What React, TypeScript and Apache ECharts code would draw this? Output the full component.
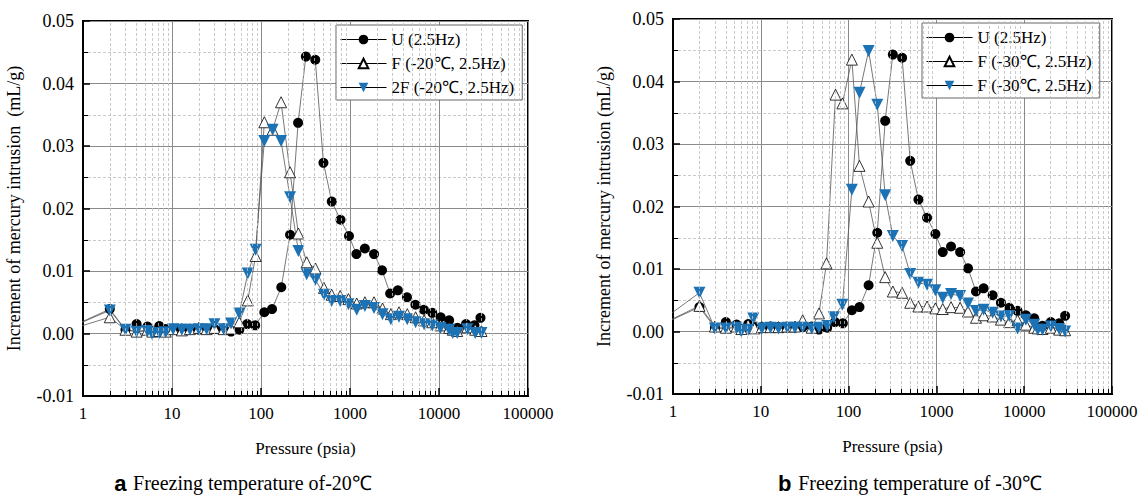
import React, { useEffect, useRef } from "react";
import * as echarts from "echarts";

// ---- data (pressure in psia, increment in mL/g) ----
const pressureU = [0.5, 2, 3, 4, 5.3, 7.2, 8.5, 10.3, 12.9, 15.9, 20, 24.5, 30, 38, 46, 57, 70, 86, 109, 133, 169, 212, 261, 319, 407, 503, 624, 783, 974, 1181, 1468, 1862, 2290, 2825, 3450, 4370, 5430, 6760, 8400, 10450, 13000, 16150, 20100, 25000, 29250];
const incrementU = [0, 0.0039, 0.0006, 0.0015, 0.0011, 0.0012, 0.0007, 0.0007, 0.0008, 0.0007, 0.0006, 0.0006, 0.0007, 0.0008, 0.0003, 0.0006, 0.0015, 0.0013, 0.0034, 0.0039, 0.0074, 0.0158, 0.0337, 0.0443, 0.0438, 0.0273, 0.0211, 0.0182, 0.0156, 0.0127, 0.0136, 0.0127, 0.0101, 0.0064, 0.0069, 0.0058, 0.0046, 0.0038, 0.0033, 0.0026, 0.0021, 0.0009, 0.0015, 0.0013, 0.0025];

const pressureF20 = [0.5, 2, 3, 4, 5.3, 6, 7.2, 8.5, 10.3, 12.9, 15.9, 20, 24.5, 30, 38, 46, 57, 71, 87, 109, 135, 168, 212, 263, 326, 409, 510, 622, 776, 960, 1190, 1470, 1860, 2320, 2880, 3550, 4400, 5460, 6800, 8400, 10400, 13000, 14300, 16000, 20800, 25500, 30000];
const incrementF20 = [0, 0.0026, 0.0006, 0.0003, 0.0006, 0.0003, 0.0004, 0.0003, 0.0007, 0.0005, 0.0007, 0.0009, 0.0007, 0.0009, 0.0007, 0.0008, 0.0018, 0.0053, 0.0124, 0.0338, 0.0326, 0.037, 0.0258, 0.016, 0.0114, 0.0104, 0.0073, 0.0062, 0.006, 0.0055, 0.0048, 0.005, 0.005, 0.004, 0.0031, 0.0034, 0.0031, 0.0026, 0.0021, 0.0018, 0.0013, 0.0009, 0.0006, 0.0004, 0.001, 0.0006, 0.0004];
const increment2F20 = [0, 0.0037, 0.0006, 0.0003, 0.0004, -0.0001, 0.0001, 0.0002, 0.0007, 0.0006, 0.0006, 0.0007, 0.0007, 0.0015, 0.0007, 0.0016, 0.0032, 0.0096, 0.0134, 0.0308, 0.0326, 0.0308, 0.0218, 0.0132, 0.0095, 0.0086, 0.0062, 0.0052, 0.0052, 0.0047, 0.0038, 0.0044, 0.0041, 0.0031, 0.0023, 0.0027, 0.0023, 0.0018, 0.0015, 0.0013, 0.0009, 0.0006, 0.0001, 0.0001, 0.0007, 0.0001, 0.0001];

const pressureF30a = [0.5, 2, 3, 4, 5.3, 6, 7.2, 8.5, 10.3, 12.9, 15.9, 20, 24.5, 30, 38, 46, 56, 71, 85, 109, 133, 169, 212, 261, 319, 407, 503, 624, 783, 974, 1181, 1468, 1862, 2290, 2825, 3450, 4370, 5430, 6760, 8400, 10450, 13000, 14300, 16150, 20100, 25000, 29250];
const incrementF30a = [0, 0.0041, 0.0008, 0.0006, 0.0008, 0.0004, 0.001, 0.0005, 0.0007, 0.0007, 0.0007, 0.0008, 0.0008, 0.0018, 0.0006, 0.0029, 0.0109, 0.0379, 0.0365, 0.0435, 0.0265, 0.0208, 0.0142, 0.0087, 0.0064, 0.0062, 0.0046, 0.004, 0.004, 0.0037, 0.0036, 0.0039, 0.0038, 0.0032, 0.0022, 0.0026, 0.0024, 0.0019, 0.0015, 0.0018, 0.0011, 0.0006, 0.0005, 0.0004, 0.0006, 0.0003, 0.0002];

const pressureF30b = [0.5, 2, 3, 4, 5.3, 6, 7.2, 8.2, 10.3, 12.9, 15.9, 20, 24.5, 30, 38, 46, 57, 68, 85, 109, 133, 169, 212, 261, 319, 407, 503, 624, 783, 974, 1181, 1468, 1862, 2290, 2825, 3450, 4370, 5430, 6760, 8400, 10450, 13000, 14300, 16150, 20100, 25000, 29250];
const incrementF30b = [0, 0.0062, 0.0005, 0.0005, 0.0006, 0, 0.0003, 0.0021, 0.0005, 0.0006, 0.0005, 0.0006, 0.0006, 0.0006, 0.0005, 0.0006, 0.0009, 0.0023, 0.0043, 0.0227, 0.0382, 0.0449, 0.0363, 0.0218, 0.0153, 0.0137, 0.0092, 0.0078, 0.0075, 0.0066, 0.0054, 0.006, 0.0057, 0.0045, 0.0033, 0.0035, 0.003, 0.0024, 0.0025, 0.0005, 0.0019, 0.0011, 0.0003, 0.0003, 0.0008, 0.0004, 0];

const decades = [1, 10, 100, 1000, 10000];
const minorMultipliers = [2, 3, 4, 5, 6, 7, 8, 9];

const nameU = "U (2.5Hz)";
const nameF20 = "F (-20℃, 2.5Hz)";
const name2F20 = "2F (-20℃, 2.5Hz)";
const nameF30a = "F (-30℃, 2.5Hz)";
const nameF30b = "F (-30℃, 2.5Hz)\u200B";

const captionA = "Freezing temperature of-20℃";
const captionB = "Freezing temperature of -30℃";

const SERIF = "Liberation Serif";
const SANS = "Liberation Sans";
const BLUE = "#1b72b4";
const LINE = "#555";

const zip = (xs: number[], ys: number[]) => xs.map((x, i) => [x, ys[i]]);

function App() {
  const ref = useRef<HTMLDivElement>(null);
  useEffect(() => {
    if (!ref.current) return;
    const chart = echarts.init(ref.current, undefined, { renderer: "svg" });

    const minorVals: number[] = [];
    decades.forEach((d) => minorMultipliers.forEach((m) => minorVals.push(d * m)));

    const makeX = (i: number) => ({
      type: "log",
      logBase: 10,
      min: 1,
      max: 100000,
      gridIndex: i,
      name: "Pressure (psia)",
      nameLocation: "middle",
      nameGap: 44,
      nameTextStyle: { fontSize: 17, color: "#000", fontFamily: SERIF },
      axisLine: { onZero: false, lineStyle: { color: "#000", width: 2 } },
      axisTick: { inside: true, length: 8, lineStyle: { color: "#000", width: 1.5 } },
      axisLabel: {
        fontSize: 17,
        color: "#000",
        fontFamily: SERIF,
        margin: 9,
        formatter: (v: number) => String(Math.round(v)),
      },
      splitLine: { show: true, lineStyle: { color: "#8a8a8a", width: 1 } },
    });
    const makeY = (i: number, name: string) => ({
      type: "value",
      min: -0.01,
      max: 0.05,
      interval: 0.01,
      gridIndex: i,
      name,
      nameLocation: "middle",
      nameGap: 60,
      nameTextStyle: { fontSize: 18, color: "#000", fontFamily: SERIF },
      axisLine: { show: true, onZero: false, lineStyle: { color: "#000", width: 2 } },
      axisTick: { show: true, inside: true, length: 7, lineStyle: { color: "#000", width: 1.5 } },
      minorTick: { show: true, splitNumber: 2, length: 5, lineStyle: { color: "#000", width: 1 } },
      minorSplitLine: { show: true, lineStyle: { color: "#bdbdbd", type: [3, 2], width: 0.8 } },
      axisLabel: {
        fontSize: 18,
        color: "#000",
        fontFamily: SERIF,
        margin: 9,
        formatter: (v: number) => (Math.abs(v) < 1e-9 ? "0.00" : v.toFixed(2)),
      },
      splitLine: { show: true, lineStyle: { color: "#8a8a8a", width: 1 } },
    });

    const gridHelper = (i: number) => [
      {
        type: "line",
        name: "__grid" + i,
        xAxisIndex: i,
        yAxisIndex: i,
        data: [],
        z: 1,
        silent: true,
        markLine: {
          silent: true,
          symbol: ["none", "none"],
          label: { show: false },
          emphasis: { disabled: true },
          animation: false,
          lineStyle: { color: "#bdbdbd", type: [3, 2], width: 0.8 },
          data: minorVals.map((v) => [{ coord: [v, -0.01] }, { coord: [v, 0.05] }]),
        },
      },
      {
        type: "line",
        name: "__tick" + i,
        xAxisIndex: i,
        yAxisIndex: i,
        data: [],
        z: 4,
        silent: true,
        markLine: {
          silent: true,
          symbol: ["none", "none"],
          label: { show: false },
          emphasis: { disabled: true },
          animation: false,
          lineStyle: { color: "#000", type: "solid", width: 1 },
          data: minorVals.map((v) => [{ coord: [v, -0.01] }, { coord: [v, -0.0092] }]),
        },
      },
    ];

    const circleSeries = (i: number) => ({
      type: "line",
      name: nameU,
      xAxisIndex: i,
      yAxisIndex: i,
      data: zip(pressureU, incrementU),
      symbol: "circle",
      symbolSize: 10,
      clip: true,
      z: 3,
      lineStyle: { color: LINE, width: 0.8 },
      itemStyle: { color: "#000", borderWidth: 0 },
    });
    const triSeries = (i: number, name: string, px: number[], py: number[]) => ({
      type: "line",
      name,
      xAxisIndex: i,
      yAxisIndex: i,
      data: zip(px, py),
      symbol: "triangle",
      symbolSize: 11,
      clip: true,
      z: 3,
      lineStyle: { color: LINE, width: 0.8 },
      itemStyle: { color: "#fff", borderColor: "#000", borderWidth: 0.8 },
    });
    const blueSeries = (i: number, name: string, px: number[], py: number[]) => ({
      type: "line",
      name,
      xAxisIndex: i,
      yAxisIndex: i,
      data: zip(px, py),
      symbol: "triangle",
      symbolRotate: 180,
      symbolSize: 12,
      clip: true,
      z: 3,
      lineStyle: { color: LINE, width: 0.8 },
      itemStyle: { color: BLUE, borderWidth: 0 },
    });

    const legendBase = {
      orient: "vertical",
      itemWidth: 46,
      itemHeight: 12,
      itemGap: 7,
      padding: [6, 8, 4, 4],
      borderColor: "#666",
      borderWidth: 1,
      backgroundColor: "#fff",
      lineStyle: { color: "#000", width: 1 },
      textStyle: { fontSize: 17, color: "#000", fontFamily: SERIF },
      selectedMode: false,
    };

    const caption = (x: number, letter: string, text: string) => ({
      type: "text",
      x,
      y: 483,
      style: {
        text: "{b|" + letter + "}  {t|" + text + "}",
        align: "center",
        verticalAlign: "middle",
        rich: {
          b: { fontFamily: SANS, fontWeight: "bold", fontSize: 22, fill: "#000" },
          t: { fontFamily: SERIF, fontSize: 20, fill: "#000" },
        },
      },
    });

    chart.setOption({
      animation: false,
      grid: [
        { left: 83, top: 21, width: 445, height: 375, show: true, borderColor: "#000", borderWidth: 2, backgroundColor: "transparent" },
        { left: 673, top: 19, width: 439, height: 375, show: true, borderColor: "#000", borderWidth: 2, backgroundColor: "transparent" },
      ],
      xAxis: [makeX(0), makeX(1)],
      yAxis: [
        makeY(0, "Increment of mercury intrusion  (mL/g)"),
        makeY(1, "Increment of mercury intrusion (mL/g)"),
      ],
      legend: [
        { ...legendBase, left: 336, top: 25, data: [nameU, nameF20, name2F20] },
        { ...legendBase, left: 922, top: 23, data: [nameU, nameF30a, nameF30b] },
      ],
      series: [
        ...gridHelper(0),
        ...gridHelper(1),
        circleSeries(0),
        triSeries(0, nameF20, pressureF20, incrementF20),
        blueSeries(0, name2F20, pressureF20, increment2F20),
        circleSeries(1),
        triSeries(1, nameF30a, pressureF30a, incrementF30a),
        blueSeries(1, nameF30b, pressureF30b, incrementF30b),
      ],
      graphic: [caption(243, "a", captionA), caption(910, "b", captionB)],
    });
    return () => chart.dispose();
  }, []);
  return (
    <div
      ref={ref}
      style={{ position: "absolute", left: 0, top: 0, width: 1142, height: 503, background: "#fff" }}
    />
  );
}

export default App;
